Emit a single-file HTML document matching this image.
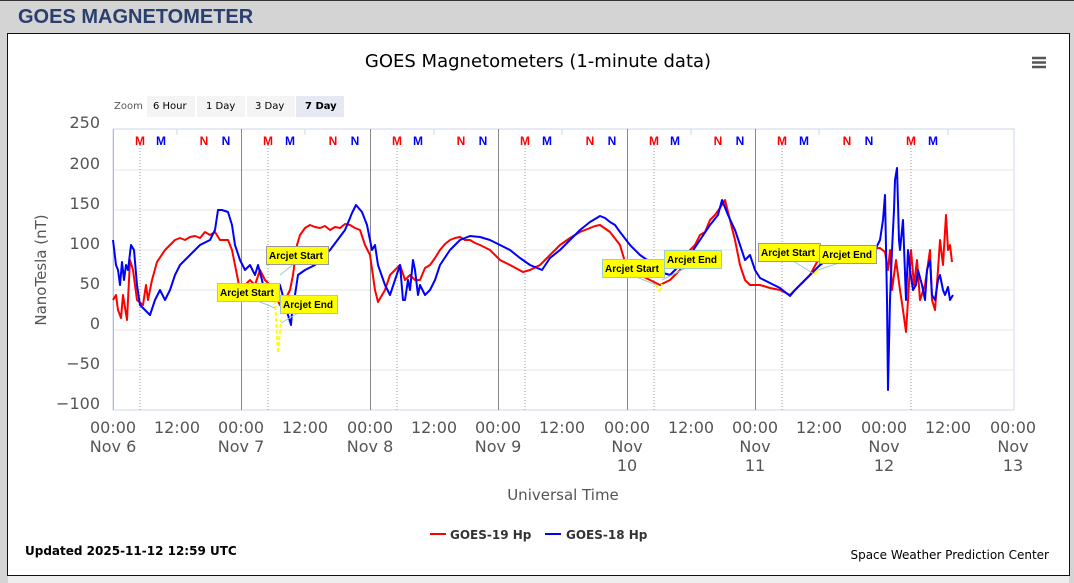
<!DOCTYPE html>
<html><head><meta charset="utf-8"><style>
body{margin:0;width:1074px;height:583px;background:#d4d4d4;overflow:hidden;font-family:"Liberation Sans",sans-serif}
</style></head><body>
<svg width="1074" height="583" xmlns="http://www.w3.org/2000/svg" style="position:absolute;left:0;top:0">
<rect x="0" y="0" width="1074" height="583" fill="#d4d4d4"/>
<line x1="0" y1="0.5" x2="1074" y2="0.5" stroke="#333"/>
<text x="18" y="23" font-family="Liberation Sans" font-weight="bold" font-size="20" fill="#2a3f6e">GOES MAGNETOMETER</text>
<rect x="7.5" y="33.5" width="1062" height="542" fill="#fff" stroke="#111"/>
<rect x="8" y="576" width="1061" height="7" fill="#eee"/>
<text x="538" y="67" text-anchor="middle" font-family="DejaVu Sans" font-size="18" fill="#000">GOES Magnetometers (1-minute data)</text>
<g stroke="#555" stroke-width="2.5"><line x1="1032" y1="58" x2="1046" y2="58"/><line x1="1032" y1="62.5" x2="1046" y2="62.5"/><line x1="1032" y1="67" x2="1046" y2="67"/></g>
<g font-family="DejaVu Sans" font-size="10">
<text x="114" y="109" fill="#555">Zoom</text>
<rect x="147" y="96" width="48" height="21" fill="#f4f4f4"/><text x="153" y="109" fill="#000">6 Hour</text>
<rect x="197" y="96" width="48" height="21" fill="#f4f4f4"/><text x="206" y="109" fill="#000">1 Day</text>
<rect x="247" y="96" width="48" height="21" fill="#f4f4f4"/><text x="255" y="109" fill="#000">3 Day</text>
<rect x="296" y="96" width="48" height="21" fill="#e6e9f3"/><text x="305" y="109" fill="#000" font-weight="bold">7 Day</text>
</g>
<g stroke="#e6e6e6"><line x1="113" y1="170" x2="1014" y2="170"/><line x1="113" y1="210" x2="1014" y2="210"/><line x1="113" y1="250" x2="1014" y2="250"/><line x1="113" y1="290" x2="1014" y2="290"/><line x1="113" y1="330" x2="1014" y2="330"/><line x1="113" y1="370" x2="1014" y2="370"/></g>
<rect x="113" y="129" width="901" height="281" fill="none" stroke="#ccd6eb"/>
<line x1="113.5" y1="129" x2="113.5" y2="410" stroke="#bbb"/>
<g stroke="#888"><line x1="241.5" y1="129" x2="241.5" y2="410"/><line x1="370.5" y1="129" x2="370.5" y2="410"/><line x1="498.5" y1="129" x2="498.5" y2="410"/><line x1="627.5" y1="129" x2="627.5" y2="410"/><line x1="755.5" y1="129" x2="755.5" y2="410"/></g>
<g stroke="#999" stroke-dasharray="1,2"><line x1="140" y1="145" x2="140" y2="410"/><line x1="268" y1="145" x2="268" y2="410"/><line x1="397" y1="145" x2="397" y2="410"/><line x1="525" y1="145" x2="525" y2="410"/><line x1="654" y1="145" x2="654" y2="410"/><line x1="782" y1="145" x2="782" y2="410"/><line x1="911" y1="145" x2="911" y2="410"/></g>
<g stroke="#ccd6eb">
<line x1="177" y1="129" x2="177" y2="135"/><line x1="305" y1="129" x2="305" y2="135"/><line x1="434" y1="129" x2="434" y2="135"/><line x1="562" y1="129" x2="562" y2="135"/><line x1="691" y1="129" x2="691" y2="135"/><line x1="819" y1="129" x2="819" y2="135"/><line x1="948" y1="129" x2="948" y2="135"/>
</g>
<g font-family="Liberation Sans" font-weight="bold" font-size="12" text-anchor="middle">
<text x="140" y="145" fill="#f00">M</text><text x="161" y="145" fill="#00f">M</text><text x="204" y="145" fill="#f00">N</text><text x="226" y="145" fill="#00f">N</text>
<text x="268" y="145" fill="#f00">M</text><text x="290" y="145" fill="#00f">M</text><text x="333" y="145" fill="#f00">N</text><text x="355" y="145" fill="#00f">N</text>
<text x="397" y="145" fill="#f00">M</text><text x="418" y="145" fill="#00f">M</text><text x="461" y="145" fill="#f00">N</text><text x="483" y="145" fill="#00f">N</text>
<text x="525" y="145" fill="#f00">M</text><text x="547" y="145" fill="#00f">M</text><text x="590" y="145" fill="#f00">N</text><text x="612" y="145" fill="#00f">N</text>
<text x="654" y="145" fill="#f00">M</text><text x="675" y="145" fill="#00f">M</text><text x="718" y="145" fill="#f00">N</text><text x="740" y="145" fill="#00f">N</text>
<text x="782" y="145" fill="#f00">M</text><text x="804" y="145" fill="#00f">M</text><text x="847" y="145" fill="#f00">N</text><text x="869" y="145" fill="#00f">N</text>
<text x="911" y="145" fill="#f00">M</text><text x="933" y="145" fill="#00f">M</text>
</g>
<g font-family="DejaVu Sans" font-size="16" fill="#555" text-anchor="end">
<text x="100" y="128">250</text><text x="100" y="169">200</text><text x="100" y="209">150</text><text x="100" y="249">100</text><text x="100" y="289">50</text><text x="100" y="329">0</text><text x="100" y="369">−50</text><text x="100" y="409">−100</text>
</g>
<text transform="translate(46,270) rotate(-90)" text-anchor="middle" font-family="DejaVu Sans" font-size="15" fill="#555">NanoTesla (nT)</text>
<g font-family="DejaVu Sans" font-size="16" fill="#555" text-anchor="middle">
<text x="113" y="433">00:00</text><text x="113" y="452">Nov 6</text>
<text x="177" y="433">12:00</text>
<text x="241" y="433">00:00</text><text x="241" y="452">Nov 7</text>
<text x="305" y="433">12:00</text>
<text x="370" y="433">00:00</text><text x="370" y="452">Nov 8</text>
<text x="434" y="433">12:00</text>
<text x="498" y="433">00:00</text><text x="498" y="452">Nov 9</text>
<text x="562" y="433">12:00</text>
<text x="627" y="433">00:00</text><text x="627" y="452">Nov</text><text x="627" y="471">10</text>
<text x="691" y="433">12:00</text>
<text x="755" y="433">00:00</text><text x="755" y="452">Nov</text><text x="755" y="471">11</text>
<text x="819" y="433">12:00</text>
<text x="884" y="433">00:00</text><text x="884" y="452">Nov</text><text x="884" y="471">12</text>
<text x="948" y="433">12:00</text>
<text x="1013" y="433">00:00</text><text x="1013" y="452">Nov</text><text x="1013" y="471">13</text>
</g>
<text x="563" y="500" text-anchor="middle" font-family="DejaVu Sans" font-size="15" fill="#555">Universal Time</text>
<polyline fill="none" stroke="#f00" stroke-width="2" stroke-linejoin="round" points="113,300 116,295 118,310 121,318 123,295 127,320 130,260 133,270 137,300 143,305 146,285 148,300 152,280 157,262 165,250 175,240 180,238 185,240 190,237 195,236 200,238 205,232 210,235 215,232 220,240 228,240 232,250 237,275 240,290 245,285 250,280 255,285 260,270 265,280 270,285 275,295 280,305 285,300 290,290 293,275 297,245 300,235 305,228 310,225 315,227 320,228 325,226 330,230 335,227 340,228 345,224 350,225 355,228 360,230 365,245 370,255 375,290 378,302 385,290 390,275 395,270 400,265 405,280 410,275 415,280 420,280 425,268 430,265 435,258 440,250 445,244 450,240 455,238 460,237 465,240 470,240 475,243 480,245 490,250 500,260 510,265 523,272 530,270 540,265 550,255 560,245 570,238 580,232 590,228 595,226 600,225 610,232 620,245 625,262 628,277 635,276 640,275 650,280 660,285 670,280 680,270 690,250 695,245 700,235 705,232 710,220 715,215 720,208 725,200 730,220 735,240 740,265 745,280 750,285 760,285 770,288 780,290 790,295 800,285 810,275 817,262 825,255 835,250 850,250 870,249 880,248 885,252 888,270 890,250 892,290 896,260 900,290 903,310 906,332 908,300 911,250 914,285 917,260 920,300 925,285 930,250 932,300 935,310 938,270 940,240 943,265 946,215 948,250 950,245 952,262"/>
<polyline fill="none" stroke="#00f" stroke-width="2" stroke-linejoin="round" points="113,240 116,265 118,270 120,285 122,262 124,280 126,265 128,270 131,245 134,250 137,285 140,305 145,310 150,315 155,300 160,290 165,300 170,290 175,275 180,265 190,255 200,245 210,240 215,230 218,210 222,210 228,212 232,225 235,245 240,260 245,270 250,265 255,275 258,265 262,280 266,300 272,290 277,300 280,285 284,300 288,315 291,325 293,300 295,295 298,275 305,270 315,265 330,250 345,230 350,218 352,213 356,205 362,212 367,225 372,250 375,245 378,265 385,285 390,295 395,280 400,265 403,300 405,300 408,280 410,290 413,260 415,270 418,295 420,285 425,295 430,290 435,280 440,265 450,250 460,240 470,236 480,237 490,240 500,245 510,250 520,258 530,265 542,270 550,258 560,250 570,240 580,230 590,222 600,216 605,218 610,222 615,225 620,232 630,245 640,255 650,262 660,272 670,275 680,265 690,255 700,240 710,225 718,215 722,200 728,215 735,230 740,245 745,260 750,255 755,270 760,278 770,283 780,288 790,296 795,290 800,285 810,275 820,265 830,258 850,255 870,252 875,250 880,240 883,220 885,195 887,300 888,390 890,300 892,250 894,210 895,180 897,168 899,240 900,250 903,220 906,300 908,250 910,270 913,290 916,285 918,270 922,285 925,300 927,270 930,260 932,295 935,300 938,280 940,275 943,290 945,295 948,287 950,300 953,295"/>
<polyline fill="none" stroke="#ff0" stroke-width="2" stroke-dasharray="4,2" points="275,300 278,353 281,320"/>
<polyline fill="none" stroke="#ff0" stroke-width="2" stroke-dasharray="3,2" points="656,285 660,292 662,284"/>
<polyline fill="none" stroke="#ff0" stroke-width="2" points="814,274 818,270"/>
<g stroke="#9cc" stroke-width="1"><line x1="250" y1="298" x2="275" y2="308"/><line x1="300" y1="312" x2="281" y2="323"/><line x1="295" y1="263" x2="280" y2="275"/><line x1="634" y1="276" x2="656" y2="285"/><line x1="690" y1="266" x2="662" y2="280"/><line x1="790" y1="259" x2="814" y2="274"/><line x1="845" y1="261" x2="818" y2="270"/></g>
<g font-family="Liberation Sans" font-size="10" font-weight="bold">
<rect x="266.5" y="246.5" width="62" height="18" fill="#ff0" stroke="#999"/><text x="269" y="259">Arcjet Start</text>
<rect x="217.5" y="283.5" width="62" height="18" fill="#ff0" stroke="#9cc"/><text x="220" y="296">Arcjet Start</text>
<rect x="280.5" y="295.5" width="57" height="18" fill="#ff0" stroke="#9cc"/><text x="283" y="308">Arcjet End</text>
<rect x="602.5" y="259.5" width="62" height="18" fill="#ff0" stroke="#9cc"/><text x="605" y="272">Arcjet Start</text>
<rect x="664.5" y="250.5" width="57" height="18" fill="#ff0" stroke="#9cc"/><text x="667" y="263">Arcjet End</text>
<rect x="758.5" y="243.5" width="62" height="18" fill="#ff0" stroke="#999"/><text x="761" y="256">Arcjet Start</text>
<rect x="819.5" y="245.5" width="57" height="18" fill="#ff0" stroke="#999"/><text x="822" y="258">Arcjet End</text>
</g>
<line x1="430" y1="534" x2="446" y2="534" stroke="#f00" stroke-width="2"/>
<text x="450" y="539" font-family="DejaVu Sans" font-size="12" font-weight="bold" fill="#333">GOES-19 Hp</text>
<line x1="545" y1="534" x2="561" y2="534" stroke="#00f" stroke-width="2"/>
<text x="566" y="539" font-family="DejaVu Sans" font-size="12" font-weight="bold" fill="#333">GOES-18 Hp</text>
<text x="25" y="555" font-family="DejaVu Sans" font-size="12" font-weight="bold" fill="#000">Updated 2025-11-12 12:59 UTC</text>
<text x="1049" y="559" text-anchor="end" font-family="DejaVu Sans" font-size="12" fill="#000">Space Weather Prediction Center</text>
</svg>
</body></html>
